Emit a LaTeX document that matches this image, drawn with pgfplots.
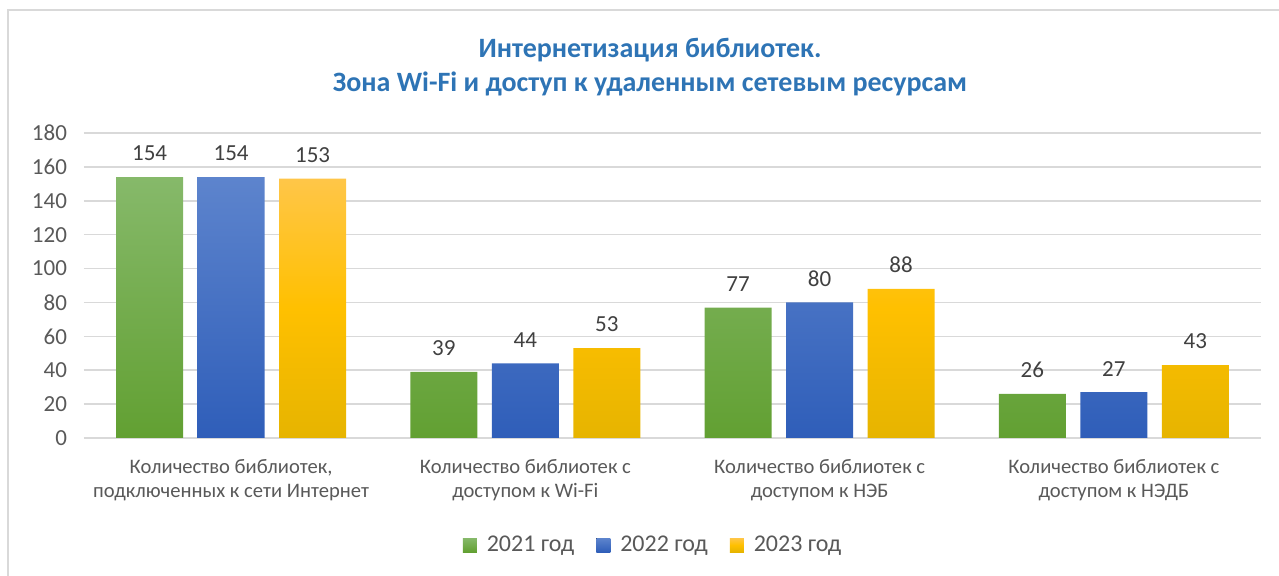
\documentclass[border=0pt]{standalone}
\usepackage{pgfplots}
\pgfplotsset{compat=1.18}
\usepackage{fontspec}
\setmainfont{Carlito}
\definecolor{gtop}{HTML}{86B96A}
\definecolor{gbot}{HTML}{62A032}
\definecolor{btop}{HTML}{5D84CD}
\definecolor{bbot}{HTML}{2F5EB9}
\definecolor{ytop}{HTML}{FFC648}
\definecolor{ymid}{HTML}{FFC000}
\definecolor{ybot}{HTML}{E6B400}
\definecolor{titleblue}{HTML}{2E74B5}
\definecolor{txt}{HTML}{595959}
\definecolor{lbl}{HTML}{404040}
\definecolor{gridc}{HTML}{D9D9D9}
\begin{document}
\begin{tikzpicture}[x=1pt,y=1pt]
\useasboundingbox (0,0) rectangle (639.5,288);
\draw[gridc,line width=0.8pt] (4,-2) -- (4,283) -- (645,283);
\node[font=\bfseries\fontsize{14}{17}\selectfont, text=titleblue, align=center] at (325,254.5)
  {Интернетизация библиотек.\\Зона Wi-Fi и доступ к удаленным сетевым ресурсам};
\begin{axis}[
  at={(42pt,69pt)}, anchor=south west,
  scale only axis, width=588.5pt, height=152.5pt,
  xmin=-0.5, xmax=3.5, ymin=0, ymax=180,
  ytick={0,20,...,180},
  xtick={0,1,2,3},
  xticklabels={{Количество библиотек,\\подключенных к сети Интернет},{Количество библиотек с\\доступом к Wi-Fi},{Количество библиотек с\\доступом к НЭБ},{Количество библиотек с\\доступом к НЭДБ}},
  xticklabel style={align=center, font=\fontsize{10.3}{12.3}\selectfont, text=txt, yshift=-7pt},
  yticklabel style={font=\fontsize{11.5}{13}\selectfont, text=txt, xshift=-5pt},
  /pgf/number format/assume math mode=true,
  major tick length=0pt,
  axis line style={draw=none},
  xmajorgrids=false, ymajorgrids=true, grid style={draw=gridc, line width=0.8pt},
  ybar, bar width=33.5pt,
  nodes near coords,
  every node near coord/.append style={font=\fontsize{11.5}{13}\selectfont, text=lbl, yshift=4.5pt},
  legend style={at={(0.4843,-0.351)}, anchor=center, draw=none, legend columns=3,
    font=\fontsize{12}{14}\selectfont, text=txt,
    /tikz/every odd column/.append style={column sep=3pt},
    /tikz/every even column/.append style={column sep=9pt}},
  legend cell align=left,
  legend image code/.code={\fill[#1] (0pt,-3.5pt) rectangle (7pt,3.5pt);},
  clip=false,
]
\addplot[draw=none, top color=gtop, bottom color=gbot, bar shift=-40.75pt] coordinates {(0,154) (1,39) (2,77) (3,26)};
\addplot[draw=none, top color=btop, bottom color=bbot, bar shift=0pt] coordinates {(0,154) (1,44) (2,80) (3,27)};
\addplot[draw=none, top color=ytop, bottom color=ybot, middle color=ymid, bar shift=40.75pt] coordinates {(0,153) (1,53) (2,88) (3,43)};
\legend{2021 год, 2022 год, 2023 год}
\end{axis}
\end{tikzpicture}
\end{document}
